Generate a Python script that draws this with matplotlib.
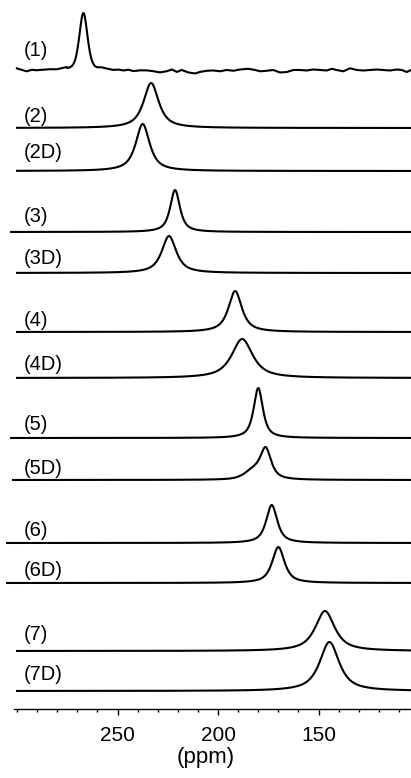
import numpy as np
import matplotlib.pyplot as plt

plt.rcParams['font.family'] = ['Liberation Sans', 'DejaVu Sans']

# spectrum labels, peak positions (ppm), heights and widths (FWHM, ppm)
labels = ["(1)", "(2)", "(2D)", "(3)", "(3D)", "(4)", "(4D)",
          "(5)", "(5D)", "(6)", "(6D)", "(7)", "(7D)"]
centers = [267.0, 233.3, 237.5, 221.4, 224.4, 191.5, 188.0,
           180.0, 176.3, 173.3, 170.0, 146.8, 144.6]
heights = [57, 45, 47, 42, 37, 41, 39, 50, 30, 38, 36, 40, 49]
widths = [4.8, 9.0, 8.3, 5.8, 8.6, 8.0, 12.5, 5.5, 6.5, 6.6, 7.3, 11.6, 11.6]
lorentz_frac = [0.4, 0.85, 0.85, 0.8, 0.85, 0.85, 0.85, 0.8, 0.8, 0.8, 0.8, 0.85, 0.85]
start_ppm = [300, 300, 300, 303, 300, 300, 300, 303, 302, 305, 305, 300, 300]

# shoulder on (5D)
shoulder_idx = 8
shoulder_center, shoulder_height, shoulder_width = 182.5, 8, 10.0

# baseline noise of spectrum (1): (ppm, offset)
noise_ppm = [300.1, 297.7, 295.2, 292.7, 290.2, 286.9, 283.6, 280.2, 277.8, 275.3,
             260.3, 257.9, 255.4, 252.1, 249.6, 247.1, 244.6, 242.1, 238.8, 235.5,
             232.2, 228.9, 225.5, 223.0, 220.5, 218.1, 214.8, 211.4, 209.0, 205.6,
             202.3, 199.0, 195.7, 192.4, 189.1, 184.9, 181.6, 179.1, 175.8, 172.5,
             169.2, 165.8, 162.5, 159.2, 155.9, 152.6, 149.3, 145.9, 143.4, 141.0,
             137.7, 134.3, 131.0, 127.7, 124.4, 121.0, 117.8, 114.4, 111.1, 108.6,
             106.1, 104.0]
noise_val = [1.5, 0, -1.5, 0, -0.5, 0, 0.3, 0, 0.8, 1.2,
             0, 1.2, 0.5, -0.5, 0, -0.8, 0, -1.3, -0.5, -0.5,
             -1.3, -2.5, -1.3, 0.5, -2.0, 0, -2.5, -3.5, -2.0, -0.8,
             -0.5, -1.3, 0, -0.8, 0.5, 1.2, 0, -1.3, -0.8, 0,
             -2.5, -2.0, 0, 0, -0.5, 0.5, 0, -0.5, 1.2, 0,
             -1.3, 1.7, 0, -0.5, 0, 0.5, 0, -0.5, 0.5, 0,
             -2.0, 0]

# layout: vertical offsets of each trace and label
offsets = [639, 581, 538, 477, 436, 377, 331, 271, 229, 166, 126, 58, 18]
label_y = [659, 593, 557, 492, 451, 388, 344, 284, 241, 178, 138, 74, 34]


def peak(x, c, h, w, eta):
    lor = 1.0 / (1.0 + ((x - c) / (w / 2.0)) ** 2)
    gau = np.exp(-4 * np.log(2) * ((x - c) / w) ** 2)
    return h * (eta * lor + (1 - eta) * gau)


fig = plt.figure(figsize=(4.11, 7.78), dpi=100)
ax = fig.add_axes([0, 69 / 778, 1, 709 / 778])

for i, lab in enumerate(labels):
    if i == 0:
        xp = np.linspace(275.0, 260.5, 60)
        x = np.concatenate([noise_ppm[:10], xp, noise_ppm[10:]])
        base = np.concatenate([noise_val[:10], np.zeros(len(xp)), noise_val[10:]])
    else:
        x = np.linspace(start_ppm[i], 100, 1200)
        base = np.zeros_like(x)
    y = base + peak(x, centers[i], heights[i], widths[i], lorentz_frac[i])
    if i == shoulder_idx:
        y += peak(x, shoulder_center, shoulder_height, shoulder_width, 0.5)
    ax.plot(x, y + offsets[i], color='black', lw=1.5, solid_joinstyle='round')
    ax.text(296.5, label_y[i], lab, fontsize=14.5, va='center', ha='left')

ax.set_xlim(308.5, 104.0)
ax.set_ylim(0, 709)
for s in ['left', 'right', 'top']:
    ax.spines[s].set_visible(False)
ax.spines['bottom'].set_bounds(301.5, 104.0)
ax.spines['bottom'].set_linewidth(1.0)
ax.set_yticks([])
ax.set_xticks([250, 200, 150])
ax.set_xticks(np.arange(110, 301, 10), minor=True)
ax.tick_params(axis='x', which='major', length=4, width=1.0, labelsize=15, pad=8)
ax.tick_params(axis='x', which='minor', length=2, width=1.0)
ax.set_xlabel("(ppm)", fontsize=16, labelpad=2)
ax.patch.set_visible(False)

fig.savefig("out.png", dpi=100)
